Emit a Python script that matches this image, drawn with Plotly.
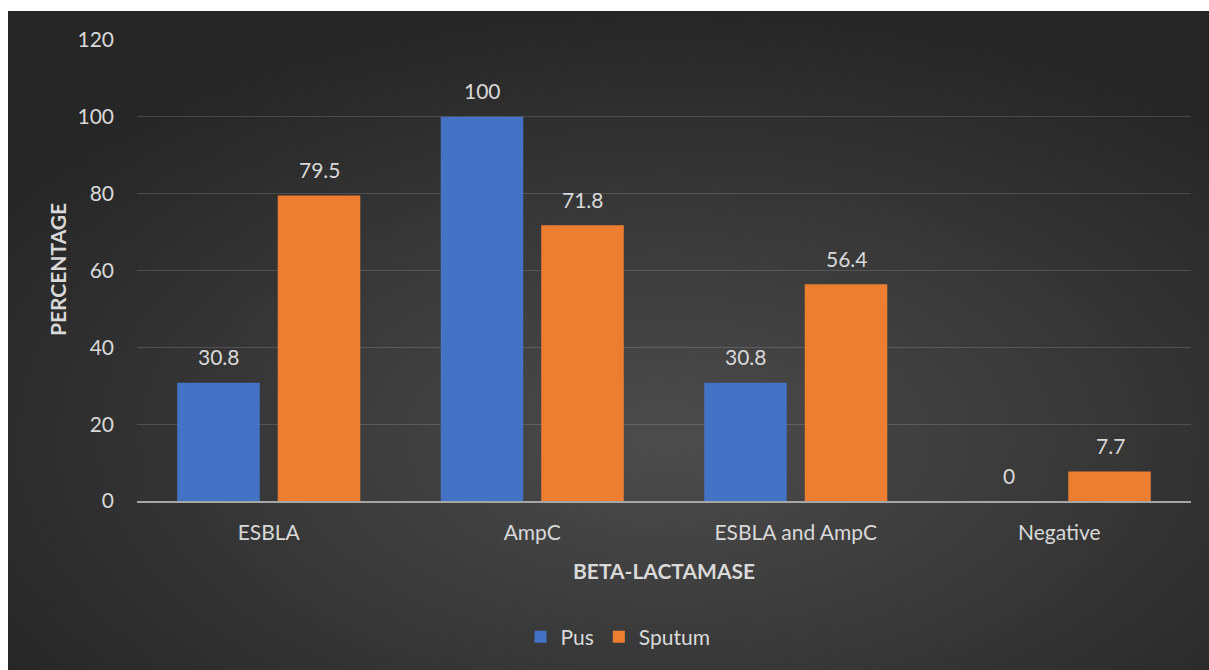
import base64
import plotly.graph_objects as go

# Beta-lactamase detection by specimen type (percent)
categories = ["ESBLA", "AmpC", "ESBLA and AmpC", "Negative"]
pus = [30.8, 100, 30.8, 0]
sputum = [79.5, 71.8, 56.4, 7.7]
y_ticks = [0, 20, 40, 60, 80, 100, 120]

W, H = 1209, 670
L, R, T, B = 137, 18, 40, 169
PW, PH = W - L - R, H - T - B

FONT = "Lato"
FS = 21
TXT = "#d9d9d9"

# dark radial background panel
svg = (
    '<svg xmlns="http://www.w3.org/2000/svg" width="1201" height="659" preserveAspectRatio="none">'
    '<defs><radialGradient id="g" cx="0.55" cy="0.65" r="0.65">'
    '<stop offset="0" stop-color="#4c4c4c"/><stop offset="1" stop-color="#262626"/>'
    '</radialGradient></defs><rect width="1201" height="659" fill="url(#g)"/></svg>'
)
bg_src = "data:image/svg+xml;base64," + base64.b64encode(svg.encode()).decode()

def px_x(p):
    return (p - L) / PW

def px_y(p):
    return (H - B - p) / PH

fig = go.Figure()
fig.add_trace(go.Bar(name="Pus", x=categories, y=pus, marker=dict(color="#4472c4", line=dict(width=0))))
fig.add_trace(go.Bar(name="Sputum", x=categories, y=sputum, marker=dict(color="#ed7d31", line=dict(width=0))))

annotations = []
for series, shift in ((pus, -50), (sputum, 51)):
    for cat, v in zip(categories, series):
        annotations.append(dict(
            x=cat, y=v, xref="x", yref="y", text=f"{v:g}", showarrow=False,
            xshift=shift, yshift=26, yanchor="middle",
            font=dict(family=FONT, size=FS, color=TXT),
        ))

annotations.append(dict(
    x=px_x(664), y=px_y(570), xref="paper", yref="paper", text="<b>BETA-LACTAMASE</b>",
    showarrow=False, xanchor="center", yanchor="middle",
    font=dict(family=FONT, size=FS, color=TXT),
))
annotations.append(dict(
    x=px_x(57), y=px_y(270), xref="paper", yref="paper", text="<b>PERCENTAGE</b>",
    showarrow=False, xanchor="center", yanchor="middle", textangle=-90,
    font=dict(family=FONT, size=FS, color=TXT),
))

fig.update_layout(
    width=W, height=H,
    margin=dict(l=L, r=R, t=T, b=B),
    paper_bgcolor="white",
    plot_bgcolor="rgba(0,0,0,0)",
    barmode="group",
    bargap=0.237,
    bargroupgap=0.179,
    font=dict(family=FONT, size=FS, color=TXT),
    images=[dict(
        source=bg_src, xref="paper", yref="paper",
        x=px_x(8), y=px_y(11), sizex=px_x(W) - px_x(8), sizey=px_y(11) - px_y(H),
        xanchor="left", yanchor="top", sizing="stretch", layer="below",
    )],
    annotations=annotations,
    legend=dict(
        orientation="h", x=px_x(618), y=px_y(637), xanchor="center", yanchor="middle",
        font=dict(family=FONT, size=FS, color=TXT), bgcolor="rgba(0,0,0,0)",
        itemwidth=30, traceorder="normal",
    ),
    xaxis=dict(
        showgrid=False, showline=True, linecolor="#a6a6a6", linewidth=2,
        ticks="", tickfont=dict(family=FONT, size=FS, color=TXT),
        ticklabelstandoff=12,
    ),
    yaxis=dict(
        range=[0, 120], tickvals=y_ticks, showgrid=True,
        gridcolor="rgba(217,217,217,0.18)", gridwidth=1, zeroline=False,
        showline=False, ticks="", tickfont=dict(family=FONT, size=FS, color=TXT),
        ticklabelstandoff=22,
    ),
)

fig.write_html("out.html")
